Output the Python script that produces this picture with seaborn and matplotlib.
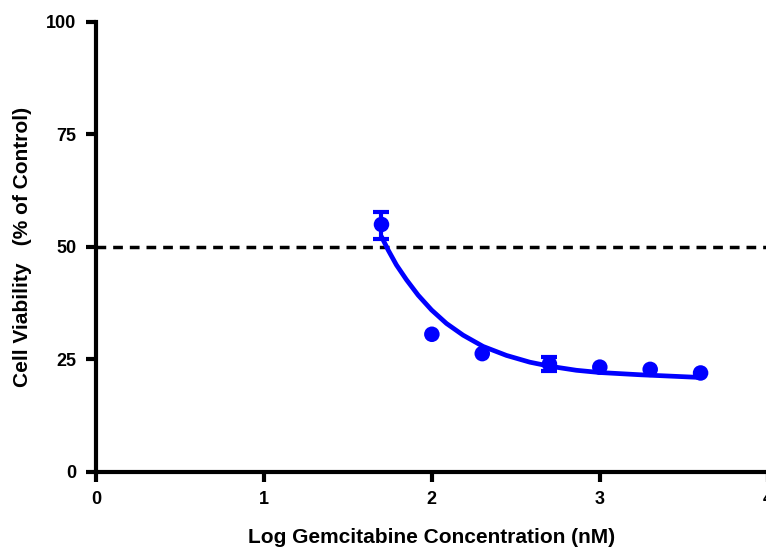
import matplotlib
matplotlib.use("Agg")
import matplotlib.pyplot as plt
import seaborn as sns
import pandas as pd

# Data
log_conc = [1.7, 2.0, 2.3, 2.7, 3.0, 3.3, 3.6]
viability = [55.0, 30.6, 26.3, 24.0, 23.3, 22.8, 22.0]
err_x = [1.7, 2.7]
err_y = [55.0, 24.0]
err_lo = [3.2, 1.5]
err_hi = [2.8, 1.5]

fit_x = [1.700, 1.740, 1.789, 1.849, 1.918, 1.998, 2.087, 2.186, 2.305,
         2.444, 2.583, 2.702, 2.860, 3.000, 3.240, 3.420, 3.600]
fit_y = [52.3, 49.3, 46.0, 42.7, 39.3, 36.0, 33.0, 30.4, 27.9,
         25.9, 24.4, 23.5, 22.6, 22.1, 21.6, 21.3, 21.0]

xticks = [0, 1, 2, 3, 4]
yticks = [0, 25, 50, 75, 100]

sns.set_theme(style="ticks")
plt.rcParams['font.family'] = ['Liberation Sans', 'DejaVu Sans']
plt.rcParams['font.weight'] = 'bold'

fig = plt.figure(figsize=(7.66, 5.49), dpi=100)
ax = fig.add_axes([0.1253, 0.1403, 0.877, 0.8197])

pts = pd.DataFrame({"x": log_conc, "y": viability})
fit = pd.DataFrame({"x": fit_x, "y": fit_y})

ax.axhline(50, color="black", lw=2.5, ls=(0, (2.8, 2.0)), zorder=1)
sns.lineplot(data=fit, x="x", y="y", ax=ax, color="#0000ff", lw=3.4, zorder=3)
ax.errorbar(err_x, err_y, yerr=[err_lo, err_hi], fmt="none", ecolor="#0000ff",
            elinewidth=3, capsize=5.5, capthick=3, zorder=4)
sns.scatterplot(data=pts, x="x", y="y", ax=ax, color="#0000ff", s=125,
                edgecolor="none", zorder=5)

ax.set_xlim(0, 4)
ax.set_ylim(0, 100)
ax.set_xticks(xticks)
ax.set_yticks(yticks)
ax.set_xticklabels([str(t) for t in xticks])
ax.set_yticklabels([str(t) for t in yticks])
for s in ["top", "right"]:
    ax.spines[s].set_visible(False)
for s in ["left", "bottom"]:
    ax.spines[s].set_linewidth(3)
    ax.spines[s].set_color("black")
ax.tick_params(axis="both", length=7, width=3, color="black", labelsize=13,
               labelcolor="black", pad=7)
for lab in ax.get_xticklabels() + ax.get_yticklabels():
    lab.set_fontweight("bold")

ax.set_xlabel("Log Gemcitabine Concentration (nM)", fontsize=15, fontweight="bold",
              color="black")
ax.set_ylabel("Cell Viability   (% of Control)", fontsize=15, fontweight="bold",
              color="black")
ax.xaxis.set_label_coords(0.5, -0.125)
ax.yaxis.set_label_coords(-0.095, 0.5)
ax.grid(False)

fig.savefig("out.png", dpi=100)
